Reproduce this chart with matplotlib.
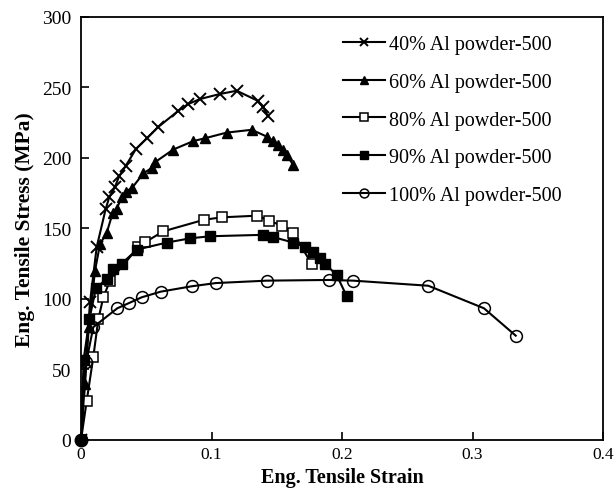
import numpy as np
import matplotlib.pyplot as plt

plt.rcParams['font.family'] = ['Liberation Serif', 'DejaVu Serif']

# strain / stress
strain_40 = [0, 0.0035, 0.0069, 0.012, 0.0189, 0.0217, 0.026, 0.0293, 0.0342, 0.0421, 0.0508,
             0.0592, 0.0746, 0.0822, 0.0912, 0.1065, 0.1193, 0.1354, 0.1397, 0.1431]
stress_40 = [0, 55, 97.6, 136.7, 163.8, 172.3, 179.4, 187.2, 194.3, 206.4, 214.2,
             222, 233.5, 238.3, 241.8, 245.4, 247.7, 240.6, 236, 230]

strain_60 = [0, 0.003, 0.006, 0.0107, 0.0146, 0.0197, 0.0243, 0.0273, 0.0312, 0.0342, 0.0393,
             0.0477, 0.0542, 0.0567, 0.0707, 0.0861, 0.095, 0.1116, 0.1308, 0.1428, 0.1474,
             0.1512, 0.155, 0.1576, 0.1627]
stress_60 = [0, 40, 80, 120, 139, 147, 161, 164, 172, 176, 179,
             189, 193, 197, 206, 212, 214, 218, 220, 215, 212,
             209, 206, 202, 195]

strain_80 = [0, 0.0044, 0.0094, 0.0133, 0.0171, 0.0222, 0.0439, 0.049, 0.0631, 0.0943,
             0.1078, 0.1351, 0.1443, 0.1538, 0.1627, 0.1768]
stress_80 = [0, 27.9, 58.7, 85.8, 101.2, 113, 136.7, 140.2, 148, 156.2,
             157.9, 159.1, 155.5, 152, 146.8, 124.8]

strain_90 = [0, 0.002, 0.0065, 0.0115, 0.0197, 0.0248, 0.0312, 0.0427, 0.0657, 0.0835,
             0.0989, 0.1397, 0.1469, 0.1627, 0.1716, 0.178, 0.1831, 0.187, 0.1959, 0.2036]
stress_90 = [0, 57, 86, 108, 114, 121, 125, 135, 140, 143,
             144.5, 145.5, 144, 140, 137, 133, 129, 125, 117, 102]

strain_100 = [0, 0.004, 0.0094, 0.0278, 0.037, 0.0465, 0.0611, 0.0848, 0.1034, 0.1423,
              0.1903, 0.2087, 0.2661, 0.3088, 0.3331]
stress_100 = [0, 55, 80, 93.4, 97.2, 101.2, 105.2, 109, 111.3, 113,
              113.5, 113, 109.4, 93.4, 74]

labels = ['40% Al powder-500', '60% Al powder-500', '80% Al powder-500',
          '90% Al powder-500', '100% Al powder-500']

fig = plt.figure(figsize=(6.16, 4.89), dpi=100)
ax = fig.add_axes([0.1315, 0.0982, 0.8474, 0.865])

ax.plot(strain_40, stress_40, 'k-', marker='x', ms=8, mew=1.4, lw=1.5, label=labels[0])
ax.plot(strain_60, stress_60, 'k-', marker='^', ms=7, lw=1.5, label=labels[1])
ax.plot(strain_80, stress_80, 'k-', marker='s', ms=7, mfc='white', mew=1.1, lw=1.5, label=labels[2])
ax.plot(strain_90, stress_90, 'k-', marker='s', ms=7, lw=1.5, label=labels[3])
ax.plot(strain_100, stress_100, 'k-', marker='o', ms=8.5, mfc='none', mew=1.1, lw=1.5, label=labels[4])
# big dot at the origin where all markers overlap
ax.plot([0], [0], 'ko', ms=9, clip_on=False, zorder=5)

ax.set_xlim(0, 0.4)
ax.set_ylim(0, 300)
ax.set_xticks([0, 0.1, 0.2, 0.3, 0.4])
ax.set_xticklabels(['0', '0.1', '0.2', '0.3', '0.4'])
ax.set_yticks(range(0, 301, 50))
ax.tick_params(direction='in', length=6, width=1.2, pad=5)
ax.tick_params(axis='y', labelsize=14, pad=7)
ax.tick_params(axis='x', labelsize=12.5, pad=4)
for s in ax.spines.values():
    s.set_linewidth(1.3)

ax.set_xlabel('Eng. Tensile Strain', fontsize=14.5, fontweight='bold', labelpad=4)
ax.set_ylabel('Eng. Tensile Stress (MPa)', fontsize=15.5, fontweight='bold', labelpad=5)

leg = ax.legend(loc='upper left', bbox_to_anchor=(0.502, 0.958), frameon=False, fontsize=14.5,
                borderaxespad=0, borderpad=0, markerscale=0.75, handlelength=2.1,
                handletextpad=0.2, labelspacing=0.93)

fig.savefig('out.png', dpi=100)
